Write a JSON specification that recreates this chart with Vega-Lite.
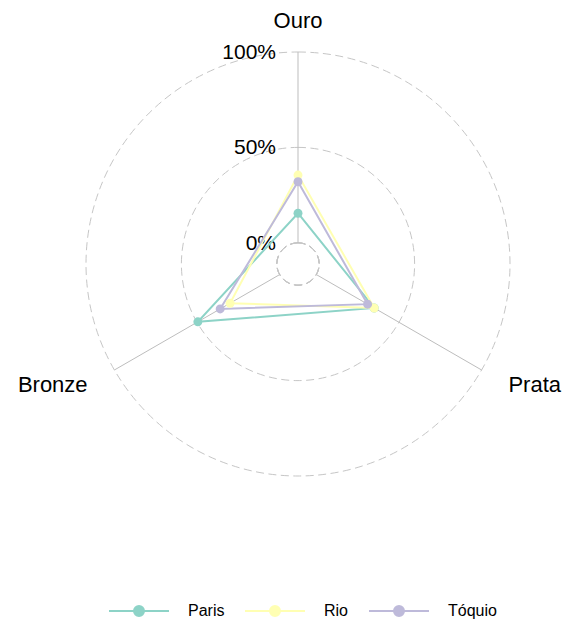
{
  "$schema": "https://vega.github.io/schema/vega-lite/v6.json",
  "width": 566,
  "height": 626,
  "autosize": "none",
  "padding": 0,
  "background": "white",
  "config": {"view": {"stroke": null}, "font": "Liberation Sans"},
  "datasets": {
    "medalhas": [
      {"cidade": "Paris", "eixo": "Ouro", "valor": 0.155},
      {"cidade": "Paris", "eixo": "Prata", "valor": 0.35},
      {"cidade": "Paris", "eixo": "Bronze", "valor": 0.495},
      {"cidade": "Rio", "eixo": "Ouro", "valor": 0.355},
      {"cidade": "Rio", "eixo": "Prata", "valor": 0.35},
      {"cidade": "Rio", "eixo": "Bronze", "valor": 0.30},
      {"cidade": "Tóquio", "eixo": "Ouro", "valor": 0.32},
      {"cidade": "Tóquio", "eixo": "Prata", "valor": 0.31},
      {"cidade": "Tóquio", "eixo": "Bronze", "valor": 0.36}
    ],
    "eixos": [{"eixo": "Ouro"}, {"eixo": "Prata"}, {"eixo": "Bronze"}],
    "grade": [
      {"nivel": 0, "rotulo": "0%"},
      {"nivel": 0.5, "rotulo": "50%"},
      {"nivel": 1, "rotulo": "100%"}
    ]
  },
  "layer": [
    {
      "data": {"name": "grade"},
      "mark": {"type": "arc", "filled": false, "stroke": "#c6c6c6", "strokeWidth": 1, "strokeDash": [8, 4.5], "theta": 0, "theta2": 6.2832},
      "encoding": {
        "x": {"datum": 0, "type": "quantitative", "scale": {"domain": [-1.40566, 1.26415], "nice": false, "zero": false}, "axis": null},
        "y": {"datum": 0, "type": "quantitative", "scale": {"domain": [-1.70755, 1.24528], "nice": false, "zero": false}, "axis": null},
        "radius": {"field": "nivel", "type": "quantitative", "stack": null, "scale": {"type": "linear", "domain": [-0.111111, 1], "range": [0, 212], "zero": false, "nice": false}, "legend": null}
      }
    },
    {
      "data": {"name": "eixos"},
      "transform": [
        {"calculate": "indexof(['Ouro','Prata','Bronze'], datum.eixo) * 2 * PI / 3", "as": "ang"},
        {"calculate": "0.1 * sin(datum.ang)", "as": "x0"},
        {"calculate": "0.1 * cos(datum.ang)", "as": "y0"},
        {"calculate": "sin(datum.ang)", "as": "x1"},
        {"calculate": "cos(datum.ang)", "as": "y1"}
      ],
      "mark": {"type": "rule", "stroke": "#bdbdbd", "strokeWidth": 1},
      "encoding": {
        "x": {"field": "x0", "type": "quantitative", "scale": {"domain": [-1.40566, 1.26415], "nice": false, "zero": false}, "axis": null},
        "y": {"field": "y0", "type": "quantitative", "scale": {"domain": [-1.70755, 1.24528], "nice": false, "zero": false}, "axis": null},
        "x2": {"field": "x1"},
        "y2": {"field": "y1"}
      }
    },
    {
      "data": {"name": "grade"},
      "transform": [{"calculate": "0.9 * datum.nivel + 0.1", "as": "r"}],
      "mark": {"type": "text", "align": "right", "baseline": "middle", "dx": -22, "dy": 1, "fontSize": 21, "color": "#000000"},
      "encoding": {
        "x": {"datum": 0, "type": "quantitative", "scale": {"domain": [-1.40566, 1.26415], "nice": false, "zero": false}, "axis": null},
        "y": {"field": "r", "type": "quantitative", "scale": {"domain": [-1.70755, 1.24528], "nice": false, "zero": false}, "axis": null},
        "text": {"field": "rotulo"}
      }
    },
    {
      "data": {"name": "medalhas"},
      "transform": [
        {"calculate": "indexof(['Ouro','Prata','Bronze'], datum.eixo) * 2 * PI / 3", "as": "ang"},
        {"calculate": "0.9 * datum.valor + 0.1", "as": "r"},
        {"calculate": "datum.r * sin(datum.ang)", "as": "px"},
        {"calculate": "datum.r * cos(datum.ang)", "as": "py"}
      ],
      "layer": [
        {
          "mark": {"type": "line", "interpolate": "linear-closed", "strokeWidth": 2, "opacity": 1},
          "encoding": {
            "x": {"field": "px", "type": "quantitative", "scale": {"domain": [-1.40566, 1.26415], "nice": false, "zero": false}, "axis": null},
            "y": {"field": "py", "type": "quantitative", "scale": {"domain": [-1.70755, 1.24528], "nice": false, "zero": false}, "axis": null},
            "order": {"field": "ang", "type": "quantitative"},
            "color": {
              "field": "cidade", "type": "nominal",
              "scale": {"domain": ["Paris", "Rio", "Tóquio"], "range": ["#8DD3C7", "#FFFFB3", "#BEBADA"]},
              "legend": {
                "title": null,
                "orient": "none",
                "direction": "horizontal",
                "legendX": 108,
                "legendY": 580,
                "gridAlign": "none",
                "symbolType": "M-1,0H1M0.167,0A0.167,0.167,0,1,1,-0.167,0A0.167,0.167,0,1,1,0.167,0Z",
                "symbolSize": 3600,
                "symbolStrokeWidth": 2,
                "symbolOpacity": 1,
                "labelFontSize": 16,
                "labelColor": "#000000",
                "labelOffset": 18,
                "columnPadding": 16,
                "encode": {
                  "symbols": {
                    "update": {
                      "fill": {"scale": "color", "field": "value"},
                      "stroke": {"scale": "color", "field": "value"},
                      "strokeWidth": {"value": 2}
                    }
                  }
                }
              }
            }
          }
        },
        {
          "mark": {"type": "point", "filled": true, "size": 80, "opacity": 1},
          "encoding": {
            "x": {"field": "px", "type": "quantitative", "scale": {"domain": [-1.40566, 1.26415], "nice": false, "zero": false}, "axis": null},
            "y": {"field": "py", "type": "quantitative", "scale": {"domain": [-1.70755, 1.24528], "nice": false, "zero": false}, "axis": null},
            "color": {"field": "cidade", "type": "nominal"}
          }
        }
      ]
    },
    {
      "data": {"name": "eixos"},
      "transform": [
        {"calculate": "indexof(['Ouro','Prata','Bronze'], datum.eixo) * 2 * PI / 3", "as": "ang"},
        {"calculate": "1.146 * sin(datum.ang)", "as": "lx"},
        {"calculate": "1.146 * cos(datum.ang)", "as": "ly"}
      ],
      "layer": [
        {
          "transform": [{"filter": "datum.eixo === 'Ouro'"}],
          "mark": {"type": "text", "align": "center", "baseline": "middle", "fontSize": 22, "color": "#000000"},
          "encoding": {
            "x": {"field": "lx", "type": "quantitative", "scale": {"domain": [-1.40566, 1.26415], "nice": false, "zero": false}, "axis": null},
            "y": {"field": "ly", "type": "quantitative", "scale": {"domain": [-1.70755, 1.24528], "nice": false, "zero": false}, "axis": null},
            "text": {"field": "eixo"}
          }
        },
        {
          "transform": [{"filter": "datum.eixo === 'Prata'"}],
          "mark": {"type": "text", "align": "left", "baseline": "middle", "fontSize": 22, "color": "#000000"},
          "encoding": {
            "x": {"field": "lx", "type": "quantitative", "scale": {"domain": [-1.40566, 1.26415], "nice": false, "zero": false}, "axis": null},
            "y": {"field": "ly", "type": "quantitative", "scale": {"domain": [-1.70755, 1.24528], "nice": false, "zero": false}, "axis": null},
            "text": {"field": "eixo"}
          }
        },
        {
          "transform": [{"filter": "datum.eixo === 'Bronze'"}],
          "mark": {"type": "text", "align": "right", "baseline": "middle", "fontSize": 22, "color": "#000000"},
          "encoding": {
            "x": {"field": "lx", "type": "quantitative", "scale": {"domain": [-1.40566, 1.26415], "nice": false, "zero": false}, "axis": null},
            "y": {"field": "ly", "type": "quantitative", "scale": {"domain": [-1.70755, 1.24528], "nice": false, "zero": false}, "axis": null},
            "text": {"field": "eixo"}
          }
        }
      ]
    }
  ]
}
